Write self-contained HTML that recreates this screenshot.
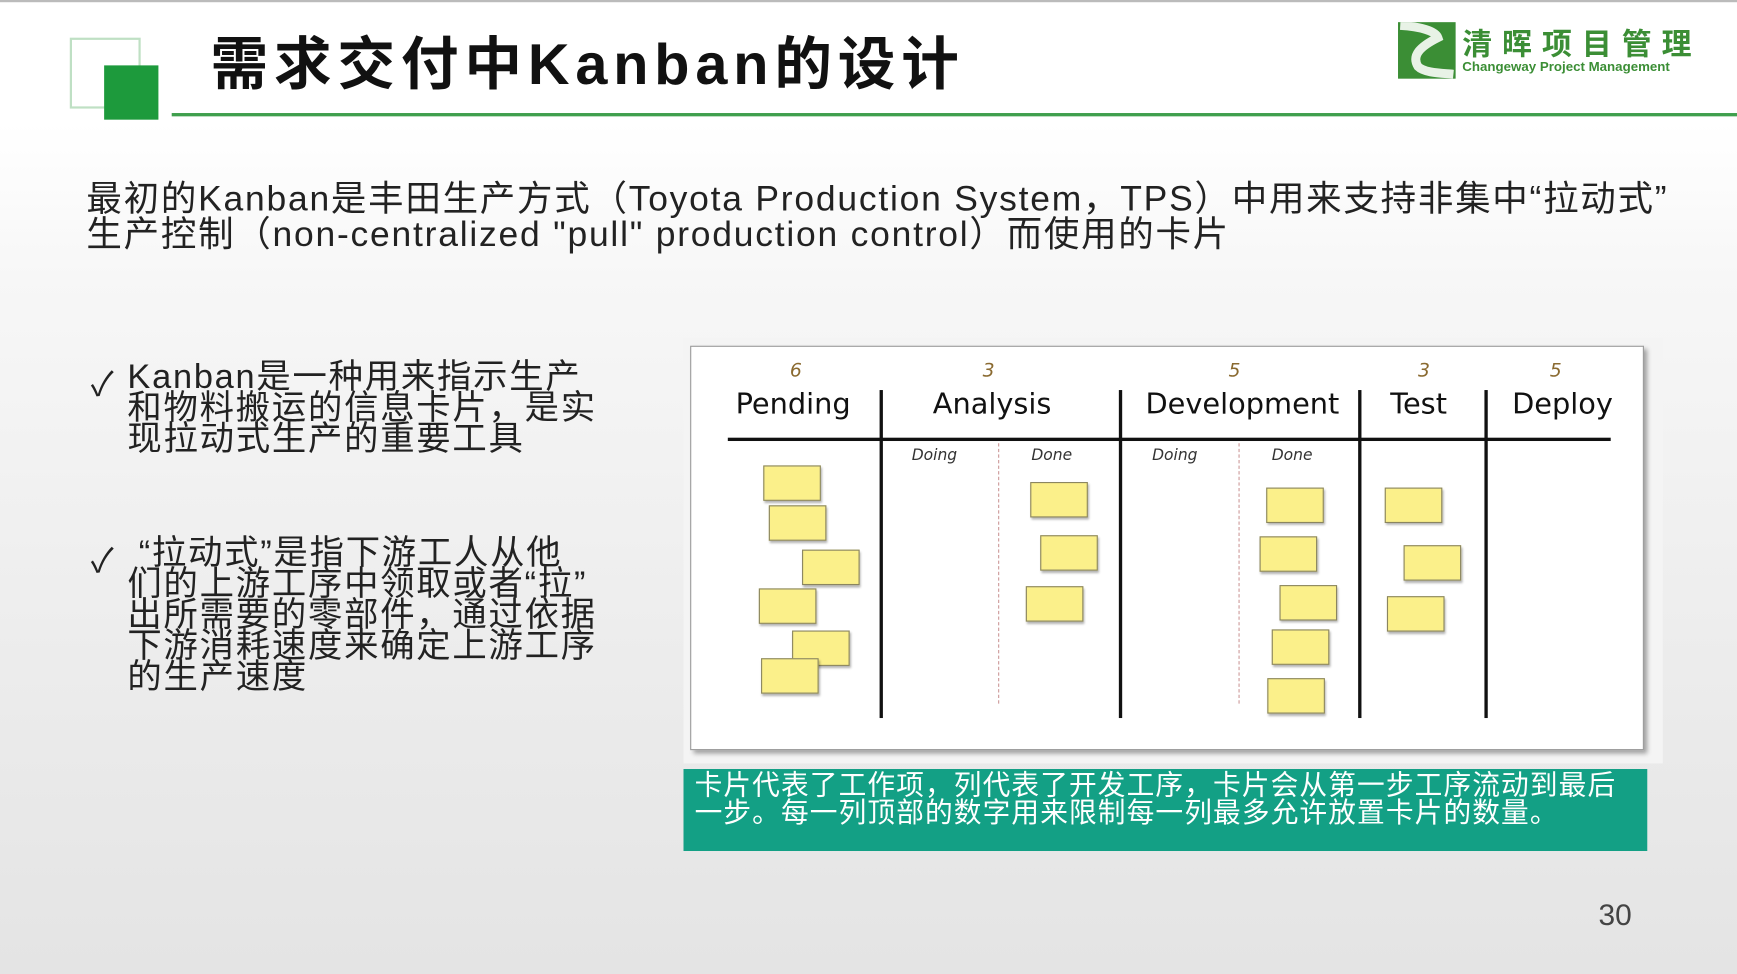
<!DOCTYPE html>
<html><head><meta charset="utf-8"><style>
html,body{margin:0;padding:0;width:1737px;height:974px;overflow:hidden;background:#eee}
#s{position:absolute;left:0;top:0;width:1568px;height:879px;transform:scale(1.10778,1.10808);transform-origin:0 0;
background:linear-gradient(#fff 0,#fff 110px,#f7f7f7 250px,#ececec 600px,#e4e4e4 879px);font-family:"Liberation Sans","Noto Sans CJK SC",sans-serif;overflow:hidden}
.a{position:absolute}
.n{position:absolute;width:50px;height:30px;background:#fbf08a;border:1px solid #8a8560;box-shadow:1px 2px 2px rgba(0,0,0,.3)}
.h{font-family:"Comic Sans MS","DejaVu Sans",sans-serif;color:#111;font-size:26px;position:absolute}
.num{font-family:"DejaVu Sans",sans-serif;color:#8a6a30;font-size:17px;position:absolute;font-style:italic}
.sub{font-family:"DejaVu Sans",sans-serif;font-size:14px;color:#333;position:absolute;font-style:italic}
.v{position:absolute;width:3px;background:#111;top:352px;height:296px}
.d{position:absolute;border-left:1px dashed #c99;top:400px;height:235px}
.b{position:absolute;left:115px;font-size:31px;line-height:28px;color:#222;white-space:nowrap;letter-spacing:1.6px}
</style></head><body><div id="s">
<div class="a" style="left:0;top:0;width:1568px;height:2px;background:#bbb"></div>
<div class="a" style="left:63px;top:34px;width:60px;height:60px;border:2px solid #bfe0c4;background:#fff"></div>
<div class="a" style="left:94px;top:59px;width:49px;height:49px;background:#1d9a3c"></div>
<div class="a" style="left:190px;top:16px;font-size:52px;font-weight:bold;color:#111;letter-spacing:5.3px">需求交付中Kanban的设计</div>
<div class="a" style="left:155px;top:102px;width:1413px;height:3px;background:#3f9f4d"></div>
<div class="a" style="left:1262px;top:20px;width:52px;height:51px;background:#3b8e35"></div>
<svg class="a" style="left:1262px;top:20px" width="52" height="51"><path d="M2 3 C20 4 34 8 36 14 C20 22 12 30 18 40 C24 46 40 46 50 47" stroke="#e8f2e6" stroke-width="8" fill="none"/></svg>
<div class="a" style="left:1320px;top:18px;font-size:27px;font-weight:bold;color:#3b8e35;letter-spacing:9px">清晖项目管理</div>
<div class="a" style="left:1320px;top:53px;font-size:12px;font-weight:bold;color:#3b8e35">Changeway Project Management</div>
<div class="a" style="left:78px;top:163px;font-size:32px;line-height:32px;color:#222;letter-spacing:1.6px;white-space:nowrap">最初的Kanban是丰田生产方式（Toyota Production System，TPS）中用来支持非集中“拉动式”<br>生产控制（non-centralized "pull" production control）而使用的卡片</div>
<div class="a" style="left:82px;top:322px;font-size:30px;color:#222">✓</div>
<div class="b" style="top:326px">Kanban是一种用来指示生产<br>和物料搬运的信息卡片，是实<br>现拉动式生产的重要工具</div>
<div class="a" style="left:82px;top:481px;font-size:30px;color:#222">✓</div>
<div class="b" style="top:485px">&nbsp;“拉动式”是指下游工人从他<br>们的上游工序中领取或者“拉”<br>出所需要的零部件，通过依据<br>下游消耗速度来确定上游工序<br>的生产速度</div>
<div class="a" style="left:617px;top:305px;width:884px;height:384px;background:#f4f4f4"></div>
<div class="a" style="left:623px;top:312px;width:859px;height:363px;background:#fff;border:1px solid #999;box-shadow:3px 3px 4px rgba(0,0,0,.35)"></div>
<div class="num" style="left:713px;top:325px">6</div>
<div class="num" style="left:887px;top:325px">3</div>
<div class="num" style="left:1109px;top:325px">5</div>
<div class="num" style="left:1280px;top:325px">3</div>
<div class="num" style="left:1399px;top:325px">5</div>
<div class="h" style="left:664px;top:350px">Pending</div>
<div class="h" style="left:842px;top:350px">Analysis</div>
<div class="h" style="left:1034px;top:350px">Development</div>
<div class="h" style="left:1255px;top:350px">Test</div>
<div class="h" style="left:1365px;top:350px">Deploy</div>
<div class="a" style="left:657px;top:395px;width:797px;height:3px;background:#111"></div>
<div class="v" style="left:794px"></div><div class="v" style="left:1010px"></div><div class="v" style="left:1226px"></div><div class="v" style="left:1340px"></div>
<div class="d" style="left:901px"></div><div class="d" style="left:1118px"></div>
<div class="sub" style="left:823px;top:403px">Doing</div><div class="sub" style="left:931px;top:403px">Done</div>
<div class="sub" style="left:1040px;top:403px">Doing</div><div class="sub" style="left:1148px;top:403px">Done</div>
<div class="n" style="left:689px;top:420px"></div><div class="n" style="left:694px;top:456px"></div><div class="n" style="left:724px;top:496px"></div>
<div class="n" style="left:685px;top:531px"></div><div class="n" style="left:715px;top:569px"></div><div class="n" style="left:687px;top:594px"></div>
<div class="n" style="left:930px;top:435px"></div><div class="n" style="left:939px;top:483px"></div><div class="n" style="left:926px;top:529px"></div>
<div class="n" style="left:1143px;top:440px"></div><div class="n" style="left:1137px;top:484px"></div><div class="n" style="left:1155px;top:528px"></div>
<div class="n" style="left:1148px;top:568px"></div><div class="n" style="left:1144px;top:612px"></div>
<div class="n" style="left:1250px;top:440px"></div><div class="n" style="left:1267px;top:492px"></div><div class="n" style="left:1252px;top:538px"></div>
<div class="a" style="left:617px;top:694px;width:870px;height:74px;background:#13a085"></div>
<div class="a" style="left:627px;top:697px;font-size:25px;line-height:25px;color:#fff;white-space:nowrap;letter-spacing:1px">卡片代表了工作项，列代表了开发工序，卡片会从第一步工序流动到最后<br>一步。每一列顶部的数字用来限制每一列最多允许放置卡片的数量。</div>
<div class="a" style="left:1443px;top:811px;font-size:27px;color:#444">30</div>
</div></body></html>
